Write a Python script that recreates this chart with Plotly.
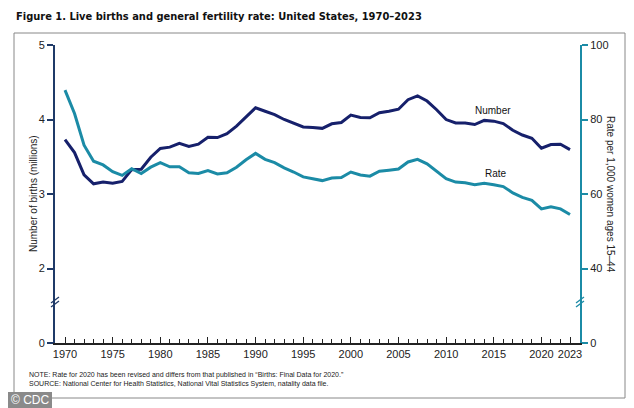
import plotly.graph_objects as go

years = list(range(1970, 2024))
births_millions = [3.731, 3.556, 3.258, 3.137, 3.160, 3.144, 3.168, 3.327, 3.333, 3.494,
                   3.612, 3.629, 3.681, 3.639, 3.669, 3.761, 3.757, 3.809, 3.910, 4.041,
                   4.158, 4.111, 4.065, 4.000, 3.953, 3.900, 3.891, 3.881, 3.942, 3.959,
                   4.059, 4.026, 4.022, 4.090, 4.112, 4.138, 4.266, 4.316, 4.248, 4.131,
                   3.999, 3.954, 3.953, 3.932, 3.988, 3.978, 3.946, 3.856, 3.792, 3.748,
                   3.614, 3.664, 3.668, 3.596]
fertility_rate = [87.9, 81.6, 73.1, 68.8, 67.8, 66.0, 65.0, 66.8, 65.5, 67.2,
                  68.4, 67.3, 67.3, 65.7, 65.5, 66.3, 65.4, 65.7, 67.2, 69.2,
                  70.9, 69.3, 68.4, 67.0, 65.9, 64.6, 64.1, 63.6, 64.3, 64.4,
                  65.9, 65.1, 64.8, 66.1, 66.4, 66.7, 68.6, 69.3, 68.1, 66.2,
                  64.1, 63.2, 63.0, 62.5, 62.9, 62.5, 62.0, 60.3, 59.1, 58.3,
                  56.0, 56.6, 56.0, 54.5]
x_tick_years = [1970, 1975, 1980, 1985, 1990, 1995, 2000, 2005, 2010, 2015, 2020, 2023]
left_tickvals = [1, 2, 3, 4, 5]          # broken axis: position 1 shows "0"
left_ticktext = ["0", "2", "3", "4", "5"]
right_tickvals = [20, 40, 60, 80, 100]   # broken axis: position 20 shows "0"
right_ticktext = ["0", "40", "60", "80", "100"]

NAVY = "#16206b"
TEAL = "#1b8ba6"
LNAVY = "#1f3a68"

fig = go.Figure()
fig.add_trace(go.Scatter(x=years, y=births_millions, mode="lines",
                         line=dict(color=NAVY, width=3), yaxis="y", name="Number"))
fig.add_trace(go.Scatter(x=years, y=fertility_rate, mode="lines",
                         line=dict(color=TEAL, width=3), yaxis="y2", name="Rate"))

fig.update_layout(
    width=626, height=400,
    margin=dict(l=47, r=54, t=37, b=65),
    paper_bgcolor="white", plot_bgcolor="white",
    showlegend=False,
    font=dict(family="Liberation Sans, Arial, sans-serif", color="#222", size=11),
    xaxis=dict(range=[1968.95, 2024.05], tickvals=x_tick_years,
               ticks="inside", ticklen=6, tickcolor="#222", tickwidth=1,
               showline=True, linecolor="#222", linewidth=1.5,
               showgrid=False, zeroline=False,
               minor=dict(dtick=1, tick0=1970, ticks="inside", ticklen=4,
                          tickcolor="#222", showgrid=False),
               tickfont=dict(size=11, color="#222")),
    yaxis=dict(range=[1, 5], tickvals=left_tickvals, ticktext=left_ticktext,
               ticks="outside", ticklen=6, tickcolor=LNAVY, tickwidth=1.5,
               showline=True, linecolor=LNAVY, linewidth=2,
               showgrid=False, zeroline=False,
               tickfont=dict(size=11, color="#222")),
    yaxis2=dict(range=[20, 100], tickvals=right_tickvals, ticktext=right_ticktext,
                overlaying="y", side="right",
                ticks="outside", ticklen=6, tickcolor=TEAL, tickwidth=1.5,
                showline=True, linecolor=TEAL, linewidth=2,
                showgrid=False, zeroline=False,
                tickfont=dict(size=11, color="#222")),
)

# Outer frame
fig.add_shape(type="rect", xref="paper", yref="paper", xsizemode="pixel", ysizemode="pixel",
              xanchor=0, yanchor=0, x0=-41, x1=570, y0=-55, y1=310,
              line=dict(color="#888", width=1), fillcolor="rgba(0,0,0,0)", layer="below")

# Axis break marks
for xa, ya, col in [(0, 1.55, LNAVY), (1, 1.55, TEAL)]:
    for dy in (0, 4):
        fig.add_shape(type="line", xref="paper", yref="y",
                      xsizemode="pixel", ysizemode="pixel",
                      xanchor=xa, yanchor=ya,
                      x0=-4, x1=4, y0=-5 + dy, y1=1 + dy,
                      line=dict(color=col, width=1.3))

# Title
fig.add_annotation(text="<b>Figure 1. Live births and general fertility rate: United States, 1970–2023</b>",
                   xref="paper", yref="paper", x=-41 / 525, y=1 + 29 / 298,
                   xanchor="left", yanchor="middle", showarrow=False,
                   font=dict(family="DejaVu Sans Condensed, Liberation Sans, sans-serif", size=11, color="#111"))

# Axis titles
fig.add_annotation(text="Number of births (millions)", xref="paper", yref="paper",
                   x=-22 / 525, y=0.5, xanchor="center", yanchor="middle", textangle=-90,
                   showarrow=False, font=dict(size=10, color="#222"))
fig.add_annotation(text="Rate per 1,000 women ages 15–44", xref="paper", yref="paper",
                   x=1 + 31 / 525, y=0.5, xanchor="center", yanchor="middle", textangle=90,
                   showarrow=False, font=dict(size=10, color="#222"))

# Series labels
fig.add_annotation(text="Number", x=2014.9, y=4.12, yref="y", showarrow=False,
                   font=dict(size=10, color="#111"))
fig.add_annotation(text="Rate", x=2015.2, y=65.6, yref="y2", showarrow=False,
                   font=dict(size=10, color="#111"))

# Notes
fig.add_annotation(text="NOTE: Rate for 2020 has been revised and differs from that published in “Births: Final Data for 2020.”<br>"
                        "SOURCE: National Center for Health Statistics, National Vital Statistics System, natality data file.",
                   xref="paper", yref="paper", x=-28 / 525, y=-26 / 298,
                   xanchor="left", yanchor="top", align="left", showarrow=False,
                   font=dict(size=7, color="#222"))

# CDC badge
fig.add_shape(type="rect", xref="paper", yref="paper", xsizemode="pixel", ysizemode="pixel",
              xanchor=0, yanchor=0, x0=-47, x1=-3, y0=-65, y1=-49,
              line=dict(width=0), fillcolor="#8a8a8a")
fig.add_annotation(text="© CDC", xref="paper", yref="paper", x=-25 / 525, y=-57 / 298,
                   xanchor="center", yanchor="middle", showarrow=False,
                   font=dict(size=12, color="white", family="Liberation Sans, Arial, sans-serif"))

fig.write_html("out.html")
